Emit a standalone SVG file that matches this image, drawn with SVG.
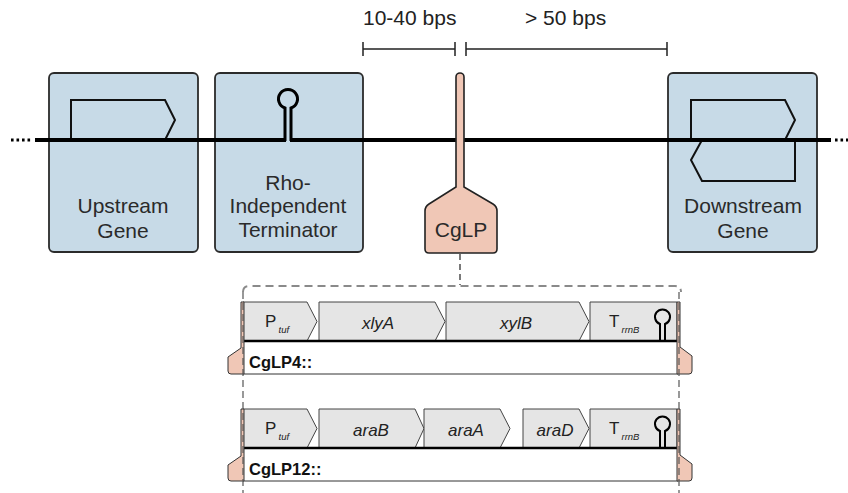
<svg xmlns="http://www.w3.org/2000/svg" width="848" height="493" viewBox="0 0 848 493">
  <style>
    .box { fill: #c7dae7; stroke: #2b2b2b; stroke-width: 1.8; }
    .lbl { font-family: "Liberation Sans", Arial, sans-serif; font-size: 21px; fill: #2a2a2a; text-anchor: middle; }
    .dim { font-family: "Liberation Sans", Arial, sans-serif; font-size: 21px; fill: #222; }
    .dna { stroke: #000; stroke-width: 4; fill: none; }
    .gene { stroke: #111; stroke-width: 2; fill: none; stroke-linejoin: miter; }
    .hp { stroke: #000; stroke-width: 3; fill: none; }
    .bar { stroke: #222; stroke-width: 1.5; fill: none; }
    .cglp { fill: #f0c7b6; stroke: #222; stroke-width: 1.6; }
    .flange { fill: #f0c7b6; stroke: #333; stroke-width: 1; }
    .part { fill: #e5e5e5; stroke: #444; stroke-width: 1; stroke-linejoin: miter; }
    .plbl { font-family: "Liberation Sans", Arial, sans-serif; font-size: 17px; font-style: italic; fill: #222; text-anchor: middle; }
    .pP { font-family: "Liberation Sans", Arial, sans-serif; font-size: 17px; fill: #222; }
    .sub { font-family: "Liberation Sans", Arial, sans-serif; font-size: 9.5px; font-style: italic; fill: #222; }
    .name { font-family: "Liberation Sans", Arial, sans-serif; font-size: 16.5px; font-weight: bold; fill: #111; }
    .base { stroke: #000; stroke-width: 2.5; }
    .hpS { stroke: #000; stroke-width: 2; fill: none; }
    .dashv { stroke: #555; stroke-width: 1.2; stroke-dasharray: 7 4; fill: none; }
  </style>

  <!-- feature boxes -->
  <g id="upstream-gene">
    <rect class="box" x="49" y="73" width="149" height="179" rx="5"/>
    <path class="gene" d="M71,140 V100 H165 L175,120 L165,140"/>
    <text class="lbl" x="123" y="213">Upstream</text>
    <text class="lbl" x="123" y="238">Gene</text>
  </g>

  <g id="terminator">
    <rect class="box" x="215" y="73" width="148" height="179" rx="5"/>
    <text class="lbl" x="288" y="190">Rho-</text>
    <text class="lbl" x="288" y="213">Independent</text>
    <text class="lbl" x="288" y="237">Terminator</text>
  </g>

  <g id="downstream-gene">
    <rect class="box" x="668" y="73" width="149" height="179" rx="5"/>
    <path class="gene" d="M691,140 V100 H785 L795,120 L785,140"/>
    <path class="gene" d="M795,140 V181 H702 L691,160 L702,140"/>
    <text class="lbl" x="743" y="213">Downstream</text>
    <text class="lbl" x="743" y="238">Gene</text>
  </g>

  <!-- DNA strand with terminator hairpin -->
  <g id="strand">
    <path class="dna" d="M35,140 H286"/>
    <path class="dna" d="M290,140 H831"/>
    <path class="hp" d="M285,141 V108 A9.5,9.5 0 1 1 291,108 V141"/>
    <line x1="11" y1="140" x2="33" y2="140" stroke="#000" stroke-width="3" stroke-dasharray="2.6 2.9"/>
    <line x1="835" y1="140" x2="848" y2="140" stroke="#000" stroke-width="3" stroke-dasharray="2.6 2.9"/>
  </g>

  <!-- spacing annotations -->
  <g id="spacing">
    <path class="bar" d="M363,49 H455 M363,42 V56 M455,42 V56"/>
    <path class="bar" d="M466,49 H667 M466,42 V56 M667,42 V56"/>
    <text class="dim" x="363" y="25">10-40 bps</text>
    <text class="dim" x="525" y="25">&gt; 50 bps</text>
  </g>

  <!-- landing pad -->
  <g id="cglp">
    <path class="cglp" d="M456,77 A4,4 0 0 1 464,77 V187 L493,204 Q497,206.5 497,211 V249 Q497,253 493,253 H429 Q425,253 425,249 V211 Q425,206.5 429,204 L456,187 Z"/>
    <text class="lbl" x="461" y="237">CgLP</text>
  </g>

  <!-- connectors -->
  <g id="connectors">
    <line x1="460" y1="254" x2="460" y2="285" stroke="#222" stroke-width="1.2" stroke-dasharray="6 4"/>
    <path d="M243,292 Q243,286 249,286 H675 Q681,286 681,292" fill="none" stroke="#8a8a8a" stroke-width="2" stroke-dasharray="8 5"/>
  </g>

  <!-- CgLP4 construct -->
  <g id="cglp4">
    <rect x="243" y="341" width="435" height="33" fill="#fff"/>
    <line x1="243" y1="374" x2="678" y2="374" stroke="#333" stroke-width="1"/>
    <path class="part" d="M243,302 H307 L317,321.5 L307,341 H243 Z"/>
    <path class="part" d="M319,302 H435 L445,321.5 L435,341 H319 Z"/>
    <path class="part" d="M446,302 H579 L589,321.5 L579,341 H446 Z"/>
    <path class="part" d="M590,302 H677 V341 H590 Z"/>
    <path class="hpS" d="M660,341 V324 A7.5,7.5 0 1 1 665,324 V341"/>
    <line class="base" x1="243" y1="341" x2="677" y2="341"/>
    <path class="flange" d="M241,302 H244 V374 H231 Q228,374 228,371 V357 L241,348 Z"/>
    <path class="flange" d="M677,302 H680 V347 L692,356 V371 Q692,374 689,374 H677 Z"/>
    <text class="pP" x="265" y="327">P</text>
    <text class="sub" x="278.5" y="333">tuf</text>
    <text class="plbl" x="378" y="329">xlyA</text>
    <text class="plbl" x="516" y="329">xylB</text>
    <text class="pP" x="609" y="327">T</text>
    <text class="sub" x="621.5" y="333">rrnB</text>
    <text class="name" x="249" y="368">CgLP4::</text>
  </g>

  <!-- CgLP12 construct -->
  <g id="cglp12">
    <rect x="243" y="448" width="435" height="33" fill="#fff"/>
    <line x1="243" y1="481" x2="678" y2="481" stroke="#333" stroke-width="1"/>
    <path class="part" d="M243,409 H307 L317,428.5 L307,448 H243 Z"/>
    <path class="part" d="M319,409 H415 L424,428.5 L415,448 H319 Z"/>
    <path class="part" d="M424,409 H500 L510,428.5 L500,448 H424 Z"/>
    <path class="part" d="M523,409 H579 L589,428.5 L579,448 H523 Z"/>
    <path class="part" d="M590,409 H677 V448 H590 Z"/>
    <path class="hpS" d="M660,448 V431 A7.5,7.5 0 1 1 665,431 V448"/>
    <line class="base" x1="243" y1="448" x2="677" y2="448"/>
    <path class="flange" d="M241,409 H244 V481 H231 Q228,481 228,478 V465 L241,456 Z"/>
    <path class="flange" d="M677,409 H680 V455 L692,464 V478 Q692,481 689,481 H677 Z"/>
    <text class="pP" x="265" y="434">P</text>
    <text class="sub" x="278.5" y="440">tuf</text>
    <text class="plbl" x="371" y="436">araB</text>
    <text class="plbl" x="466" y="436">araA</text>
    <text class="plbl" x="555" y="436">araD</text>
    <text class="pP" x="609" y="434">T</text>
    <text class="sub" x="621.5" y="440">rrnB</text>
    <text class="name" x="249" y="475">CgLP12::</text>
  </g>

  <!-- side guides of the insert region -->
  <g id="guides">
    <line class="dashv" x1="243" y1="292" x2="243" y2="493"/>
    <line class="dashv" x1="679" y1="292" x2="679" y2="493"/>
  </g>
</svg>
